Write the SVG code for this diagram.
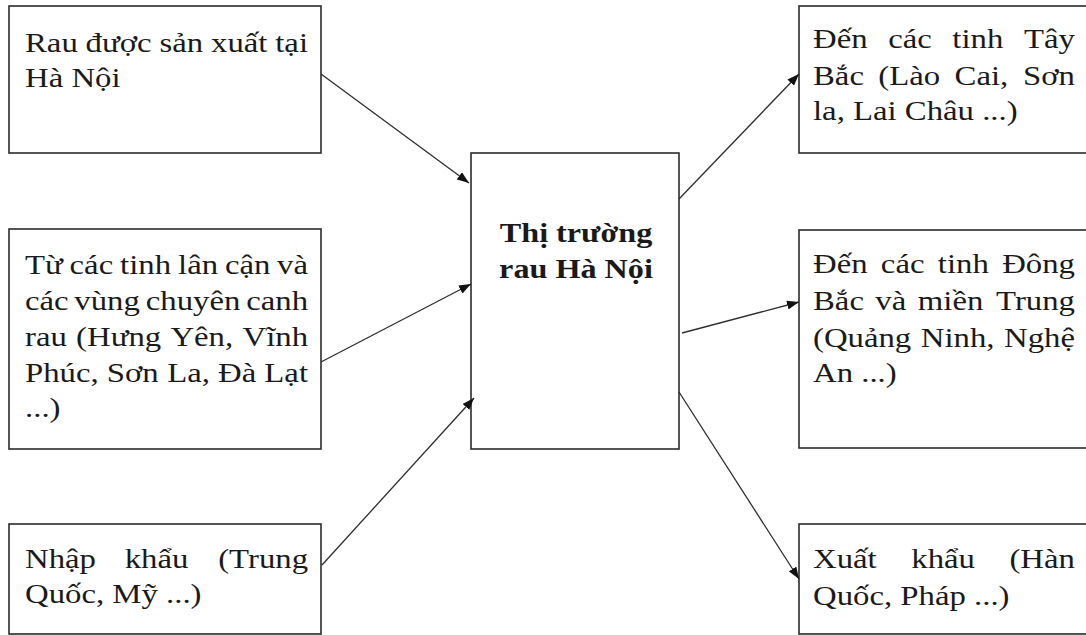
<svg xmlns="http://www.w3.org/2000/svg" width="1086" height="635" viewBox="0 0 1086 635">
  <style>
    .box { fill: #ffffff; stroke: #2b2b2b; stroke-width: 1.6; }
    .t { font-family: "Liberation Serif", "DejaVu Serif", serif; font-size: 28px; fill: #1a1a1a; }
    .b { font-weight: bold; text-anchor: middle; }
    .e { text-anchor: end; }
    .link { fill: none; stroke: #2e2e2e; stroke-width: 1.3; marker-end: url(#head); }
  </style>
  <defs>
    <marker id="head" markerUnits="userSpaceOnUse" markerWidth="12" markerHeight="9" refX="12" refY="4.5" orient="auto">
      <path d="M0,0 L12,4.5 L0,9 z" fill="#111"/>
    </marker>
  </defs>
  <rect width="1086" height="635" fill="#ffffff"/>

  <!-- sources (justified text, words placed one by one) -->
  <g id="node-local">
    <rect class="box" x="9" y="6" width="312" height="147"/>
    <g class="t" transform="matrix(1.17 0 0 1 25 0)">
      <text y="52"><tspan x="0">Rau</tspan><tspan x="51.75">được</tspan><tspan x="115">sản</tspan><tspan x="159">xuất</tspan></text>
      <text class="e" x="241.9" y="52">tại</text>
      <text x="0" y="87">Hà Nội</text>
    </g>
  </g>

  <g id="node-provinces">
    <rect class="box" x="9" y="229" width="312" height="220"/>
    <g class="t" transform="matrix(1.17 0 0 1 25 0)">
      <text y="274"><tspan x="0">Từ</tspan><tspan x="38.1">các</tspan><tspan x="81.3">tinh</tspan><tspan x="130.8">lân</tspan><tspan x="170.9">cận</tspan></text>
      <text class="e" x="241.9" y="274">và</text>
      <text y="310"><tspan x="0">các</tspan><tspan x="42.2">vùng</tspan><tspan x="103.2">chuyên</tspan></text>
      <text class="e" x="241.9" y="310">canh</text>
      <text y="346"><tspan x="0">rau</tspan><tspan x="43.7">(Hưng</tspan><tspan x="124.3">Yên,</tspan></text>
      <text class="e" x="241.9" y="346">Vĩnh</text>
      <text y="382"><tspan x="0">Phúc,</tspan><tspan x="69.9">Sơn</tspan><tspan x="121.5">La,</tspan><tspan x="165">Đà</tspan></text>
      <text class="e" x="241.9" y="382">Lạt</text>
      <text x="0" y="417">...)</text>
    </g>
  </g>

  <g id="node-import">
    <rect class="box" x="9" y="524" width="312" height="110"/>
    <g class="t" transform="matrix(1.17 0 0 1 25 0)">
      <text y="568"><tspan x="0">Nhập</tspan><tspan x="85.2">khẩu</tspan></text>
      <text class="e" x="241.9" y="568">(Trung</text>
      <text x="0" y="603">Quốc, Mỹ ...)</text>
    </g>
  </g>

  <!-- market -->
  <g id="node-market">
    <rect class="box" x="471" y="153" width="208" height="296"/>
    <g class="t b" transform="matrix(1.15 0 0 1 576 0)">
      <text x="0" y="242">Thị trường</text>
      <text x="0" y="278">rau Hà Nội</text>
    </g>
  </g>

  <!-- destinations -->
  <g id="node-northwest">
    <rect class="box" x="799" y="6" width="300" height="147"/>
    <g class="t" transform="matrix(1.17 0 0 1 813 0)">
      <text y="48"><tspan x="0">Đến</tspan><tspan x="64.3">các</tspan><tspan x="119.1">tinh</tspan></text>
      <text class="e" x="223.9" y="48">Tây</text>
      <text y="85"><tspan x="0">Bắc</tspan><tspan x="55.8">(Lào</tspan><tspan x="121">Cai,</tspan></text>
      <text class="e" x="223.9" y="85">Sơn</text>
      <text x="0" y="120">la, Lai Châu ...)</text>
    </g>
  </g>

  <g id="node-northeast">
    <rect class="box" x="799" y="230" width="300" height="218"/>
    <g class="t" transform="matrix(1.17 0 0 1 813 0)">
      <text y="273"><tspan x="0">Đến</tspan><tspan x="58">các</tspan><tspan x="106.7">tinh</tspan></text>
      <text class="e" x="223.9" y="273">Đông</text>
      <text y="310"><tspan x="0">Bắc</tspan><tspan x="53.3">và</tspan><tspan x="89.6">miền</tspan></text>
      <text class="e" x="223.9" y="310">Trung</text>
      <text y="347"><tspan x="0">(Quảng</tspan><tspan x="92.1">Ninh,</tspan></text>
      <text class="e" x="223.9" y="347">Nghệ</text>
      <text x="0" y="382">An ...)</text>
    </g>
  </g>

  <g id="node-export">
    <rect class="box" x="799" y="524" width="300" height="110"/>
    <g class="t" transform="matrix(1.17 0 0 1 813 0)">
      <text y="568"><tspan x="0">Xuất</tspan><tspan x="84">khẩu</tspan></text>
      <text class="e" x="223.9" y="568">(Hàn</text>
      <text x="0" y="605">Quốc, Pháp ...)</text>
    </g>
  </g>

  <!-- flows -->
  <g id="connectors">
    <line class="link" x1="321" y1="74" x2="469" y2="183"/>
    <line class="link" x1="321" y1="362" x2="471" y2="284"/>
    <line class="link" x1="322" y1="565" x2="474" y2="398"/>
    <line class="link" x1="679" y1="199" x2="799" y2="74"/>
    <line class="link" x1="682" y1="333" x2="799" y2="302"/>
    <line class="link" x1="679" y1="392" x2="799" y2="579"/>
  </g>
</svg>
